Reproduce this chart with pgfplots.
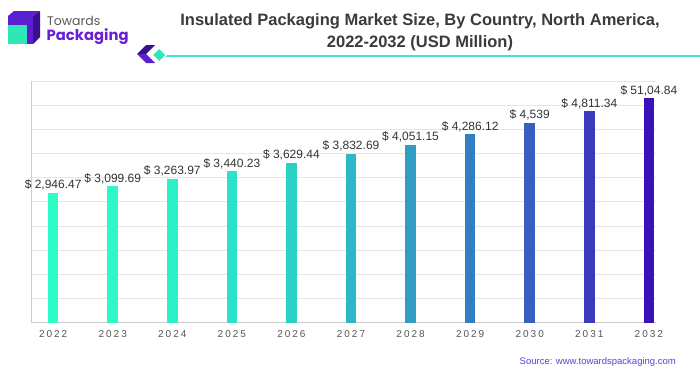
\documentclass[border=0pt]{standalone}
\usepackage{pgfplots}
\pgfplotsset{compat=1.18}
\usepackage{fontspec}
\setmainfont{Liberation Sans}
\newfontfamily\poppins{Poppins}
\newfontfamily\tickfont[LetterSpace=20]{Liberation Sans}
\definecolor{c0}{HTML}{2EFDC8}
\definecolor{c1}{HTML}{2DF8C8}
\definecolor{c2}{HTML}{2CF0C8}
\definecolor{c3}{HTML}{2BE3C8}
\definecolor{c4}{HTML}{2BD0C6}
\definecolor{c5}{HTML}{2EB8C6}
\definecolor{c6}{HTML}{2F9DC4}
\definecolor{c7}{HTML}{317FC2}
\definecolor{c8}{HTML}{375EC0}
\definecolor{c9}{HTML}{3A3CBC}
\definecolor{c10}{HTML}{3A10B8}
\definecolor{logopurple}{HTML}{5B1FCF}
\definecolor{logodark}{HTML}{3A0E8C}
\definecolor{logoteal}{HTML}{2EE6B6}
\definecolor{pkgpurple}{HTML}{6A1FD6}
\definecolor{titlegray}{HTML}{3A3A3A}
\definecolor{labelgray}{HTML}{333333}
\definecolor{tickgray}{HTML}{555555}
\definecolor{gridgray}{HTML}{E6E6E6}
\definecolor{axisgray}{HTML}{CCCCCC}
\definecolor{decoteal}{HTML}{3FE8C0}
\definecolor{sourcecol}{HTML}{5A3FD8}
\begin{document}
\begin{tikzpicture}[x=1pt,y=1pt]
\useasboundingbox (0,0) rectangle (700,-375);
% logo
\fill[logopurple] (8,-16) -- (14,-11) -- (40,-11) -- (33,-16) -- cycle;
\fill[logopurple] (8,-16) -- (33,-16) -- (33,-44) -- (8,-44) -- cycle;
\fill[logodark] (33,-16) -- (40,-11) -- (40,-37) -- (33,-44) -- cycle;
\fill[logoteal] (8,-25) rectangle (27,-44);
\node[anchor=base west, inner sep=0, font=\poppins\fontsize{12.5}{13}\selectfont, text=titlegray!85] at (47,-25) {Towards};
\node[anchor=base west, inner sep=0, font=\poppins\bfseries\fontsize{14.8}{16}\selectfont, text=pkgpurple] at (46.5,-40) {Packaging};
% title
\node[align=center, font=\bfseries\fontsize{16.5}{22}\selectfont, text=titlegray] at (420,-32) {Insulated Packaging Market Size, By Country, North America,\\2022-2032 (USD Million)};
% decoration
\draw[decoteal, line width=1.6pt] (162,-56) -- (700,-56);
\fill[logodark] (155,-45) -- (146,-45) -- (137,-54) -- (146,-54) -- cycle;
\fill[logopurple] (137,-54) -- (146,-54) -- (155,-63) -- (146,-63) -- cycle;
\fill[logoteal, draw=white, line width=1.2pt] (159.3,-48) -- (166.3,-55) -- (159.3,-62) -- (152.3,-55) -- cycle;
% source
\node[anchor=east, inner sep=0, font=\fontsize{9.5}{10}\selectfont, text=sourcecol] at (676,-362) {Source: www.towardspackaging.com};
\begin{axis}[
  at={(31.7pt,-322.5pt)}, anchor=south west,
  scale only axis, width=624.3pt, height=241.5pt,
  xmin=-0.36, xmax=10.12, ymin=0, ymax=5500,
  axis x line*=bottom, axis y line*=left,
  axis line style={axisgray, line width=0.9pt},
  xtick={0,...,10},
  xticklabels={2022,2023,2024,2025,2026,2027,2028,2029,2030,2031,2032},
  ytick={0,550,...,5500}, yticklabels={},
  major tick length=0pt,
  ymajorgrids, grid style={gridgray, line width=0.8pt},
  x tick label style={font=\tickfont\fontsize{10}{10}\selectfont, text=tickgray, yshift=-4pt},
  nodes near coords, point meta=explicit symbolic,
  every node near coord/.style={font=\fontsize{12}{12}\selectfont, text=labelgray, inner sep=2.5pt},
  clip=false,
]
\addplot[ybar, bar width=10.7pt, fill=c0, draw=none] coordinates {(0,2946.47) [\$ 2,946.47]};
\addplot[ybar, bar width=10.7pt, fill=c1, draw=none] coordinates {(1,3099.69) [\$ 3,099.69]};
\addplot[ybar, bar width=10.7pt, fill=c2, draw=none] coordinates {(2,3263.97) [\$ 3,263.97]};
\addplot[ybar, bar width=10.7pt, fill=c3, draw=none] coordinates {(3,3440.23) [\$ 3,440.23]};
\addplot[ybar, bar width=10.7pt, fill=c4, draw=none] coordinates {(4,3629.44) [\$ 3,629.44]};
\addplot[ybar, bar width=10.7pt, fill=c5, draw=none] coordinates {(5,3832.69) [\$ 3,832.69]};
\addplot[ybar, bar width=10.7pt, fill=c6, draw=none] coordinates {(6,4051.15) [\$ 4,051.15]};
\addplot[ybar, bar width=10.7pt, fill=c7, draw=none] coordinates {(7,4286.12) [\$ 4,286.12]};
\addplot[ybar, bar width=10.7pt, fill=c8, draw=none] coordinates {(8,4539) [\$ 4,539]};
\addplot[ybar, bar width=10.7pt, fill=c9, draw=none] coordinates {(9,4811.34) [\$ 4,811.34]};
\addplot[ybar, bar width=10.7pt, fill=c10, draw=none] coordinates {(10,5104.84) [\$ 51,04.84]};
\end{axis}
\end{tikzpicture}
\end{document}
